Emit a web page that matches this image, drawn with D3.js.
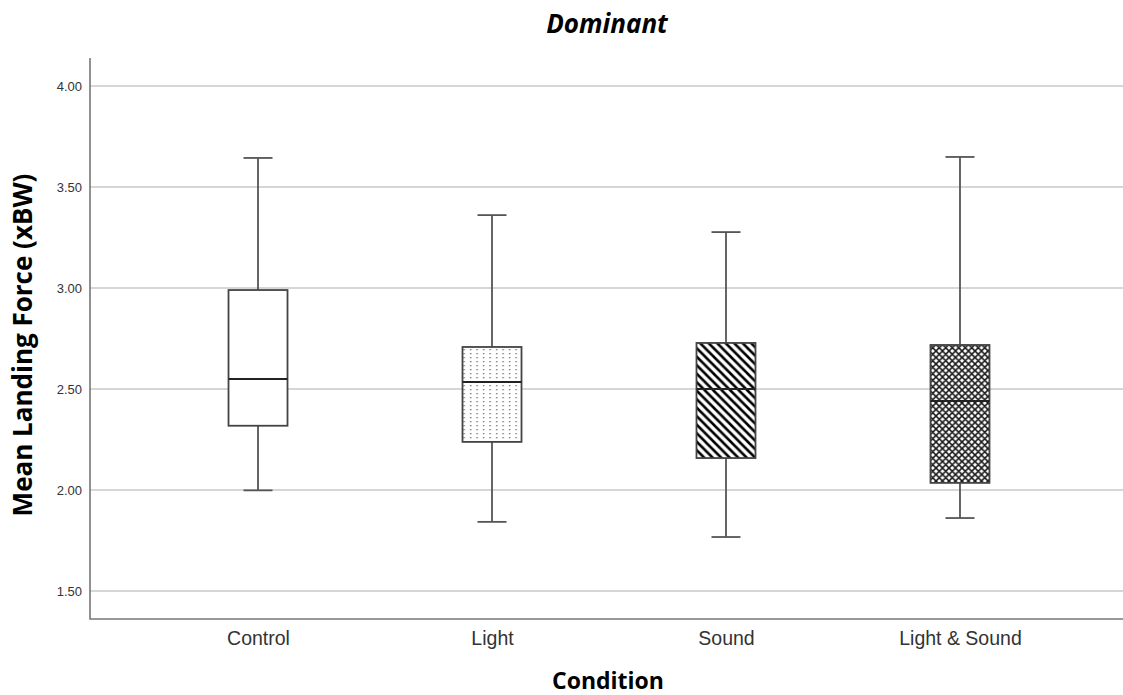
<!DOCTYPE html>
<html><head><meta charset="utf-8">
<script src="https://cdn.jsdelivr.net/npm/d3@7"></script>
<style>body{margin:0;background:#fff}svg{display:block}</style>
</head><body><svg id="c" width="1123" height="695"></svg>
<script>
const categories = ["Control", "Light", "Sound", "Light & Sound"];
const whiskerLow  = [1.998, 1.842, 1.767, 1.861];
const q1          = [2.318, 2.238, 2.158, 2.035];
const median      = [2.550, 2.535, 2.500, 2.440];
const q3          = [2.990, 2.708, 2.728, 2.718];
const whiskerHigh = [3.644, 3.361, 3.277, 3.649];
const yTicks = [1.5, 2.0, 2.5, 3.0, 3.5, 4.0];
const patterns = ["none", "dots", "diag", "cross"];

const svg = d3.select("#c");
const L = 90, R = 1128, T = 58, B = 619;
const y = d3.scaleLinear().domain([1.361, 4.139]).range([B, T]);
const x = d3.scalePoint().domain(categories).range([L, R]).padding(0.718);

const defs = svg.append("defs");
const pd = defs.append("pattern").attr("id","dots").attr("patternUnits","userSpaceOnUse")
  .attr("width",6.5).attr("height",4);
pd.append("rect").attr("x",2).attr("y",1).attr("width",1.3).attr("height",1.3).attr("fill","#666");
const pg = defs.append("pattern").attr("id","diag").attr("patternUnits","userSpaceOnUse")
  .attr("width",8.5).attr("height",8.5);
pg.append("path").attr("d","M-2,-2 L10.5,10.5 M-2,6.5 L2,10.5 M6.5,-2 L10.5,2")
  .attr("stroke","#000").attr("stroke-width",2.6);
const pc = defs.append("pattern").attr("id","cross").attr("patternUnits","userSpaceOnUse")
  .attr("width",6.5).attr("height",6.5);
pc.append("path").attr("d","M-1,-1 L7.5,7.5 M-1,5.5 L1,7.5 M5.5,-1 L7.5,1 M-1,7.5 L7.5,-1 M-1,1 L1,-1 M5.5,7.5 L7.5,5.5")
  .attr("stroke","#1a1a1a").attr("stroke-width",1.6);

svg.append("g").selectAll("line").data(yTicks).join("line")
  .attr("x1",L).attr("x2",R).attr("y1",d=>y(d)).attr("y2",d=>y(d))
  .attr("stroke","#c8c8c8").attr("stroke-width",1.5);

const yAxis = svg.append("g").attr("transform",`translate(${L},0)`)
  .call(d3.axisLeft(y).tickValues(yTicks).tickFormat(d3.format(".2f")).tickSize(0).tickPadding(8));
yAxis.select(".domain").remove();
yAxis.selectAll("text").attr("font-family","Liberation Sans, Arial, sans-serif").attr("font-size",13).attr("fill","#333");
const xAxis = svg.append("g").attr("transform",`translate(0,${B})`)
  .call(d3.axisBottom(x).tickSize(0).tickPadding(0));
xAxis.select(".domain").remove();
xAxis.selectAll("text").attr("dy",null).attr("y",26).attr("font-family","Liberation Sans, Arial, sans-serif").attr("font-size",19.5).attr("fill","#333");
svg.append("path").attr("d",`M${L},${T}V${B}H${R}`).attr("fill","none").attr("stroke","#777").attr("stroke-width",1.6);

const bw = 59, cw = 29;
categories.forEach((c,i)=>{
  const cx = x(c);
  const g = svg.append("g");
  g.append("line").attr("x1",cx).attr("x2",cx).attr("y1",y(whiskerHigh[i])).attr("y2",y(q3[i])).attr("stroke","#555").attr("stroke-width",1.8);
  g.append("line").attr("x1",cx).attr("x2",cx).attr("y1",y(q1[i])).attr("y2",y(whiskerLow[i])).attr("stroke","#555").attr("stroke-width",1.8);
  g.append("line").attr("x1",cx-cw/2).attr("x2",cx+cw/2).attr("y1",y(whiskerHigh[i])).attr("y2",y(whiskerHigh[i])).attr("stroke","#555").attr("stroke-width",1.8);
  g.append("line").attr("x1",cx-cw/2).attr("x2",cx+cw/2).attr("y1",y(whiskerLow[i])).attr("y2",y(whiskerLow[i])).attr("stroke","#555").attr("stroke-width",1.8);
  g.append("rect").attr("x",cx-bw/2).attr("width",bw).attr("y",y(q3[i])).attr("height",y(q1[i])-y(q3[i]))
    .attr("fill","#fff").attr("stroke","none");
  if (patterns[i] !== "none")
    g.append("rect").attr("x",cx-bw/2).attr("width",bw).attr("y",y(q3[i])).attr("height",y(q1[i])-y(q3[i]))
      .attr("fill",`url(#${patterns[i]})`);
  g.append("rect").attr("x",cx-bw/2).attr("width",bw).attr("y",y(q3[i])).attr("height",y(q1[i])-y(q3[i]))
    .attr("fill","none").attr("stroke","#444").attr("stroke-width",1.8);
  g.append("line").attr("x1",cx-bw/2).attr("x2",cx+bw/2).attr("y1",y(median[i])).attr("y2",y(median[i])).attr("stroke","#222").attr("stroke-width",2);
});

svg.append("text").attr("x",607).attr("y",33).attr("text-anchor","middle")
  .attr("font-family","Open Sans, sans-serif").attr("font-weight","bold").attr("font-style","italic").attr("font-size",26)
  .attr("fill","#000").text("Dominant");
svg.append("text").attr("transform","translate(32,345) rotate(-90)").attr("text-anchor","middle")
  .attr("font-family","Open Sans, sans-serif").attr("font-weight","bold").attr("font-size",26)
  .attr("fill","#000").text("Mean Landing Force (xBW)");
svg.append("text").attr("x",608).attr("y",689).attr("text-anchor","middle")
  .attr("font-family","Open Sans, sans-serif").attr("font-weight","bold").attr("font-size",23)
  .attr("fill","#000").text("Condition");
</script></body></html>
